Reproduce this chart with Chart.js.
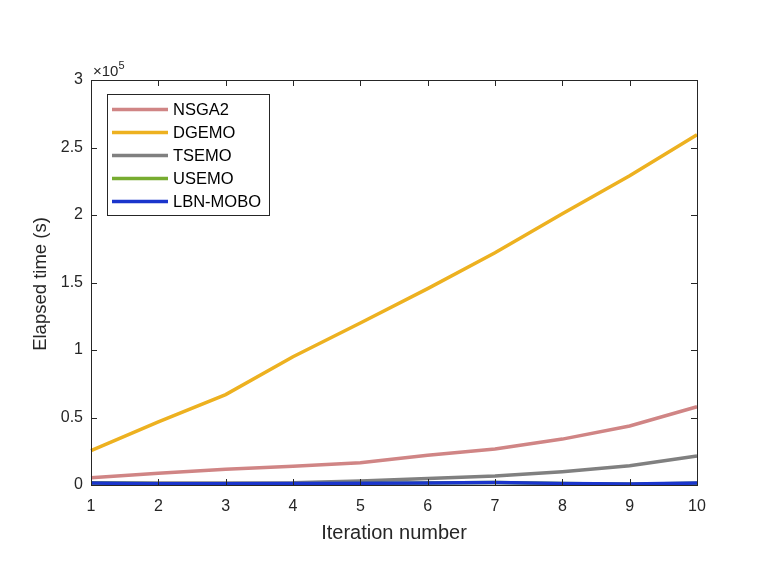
<!DOCTYPE html>
<html><head><meta charset="utf-8">
<script src="https://cdn.jsdelivr.net/npm/chart.js@4.4.0/dist/chart.umd.min.js"></script>
<style>html,body{margin:0;padding:0;background:#fff}#wrap{width:761px;height:586px}</style>
</head><body><div id="wrap"><canvas id="c" width="761" height="586"></canvas></div>
<script>
const iterations = [1,2,3,4,5,6,7,8,9,10];
const nsga2   = [5400, 8700, 11600, 13800, 16500, 22000, 26700, 34000, 43700, 58000];
const dgemo   = [25500, 46700, 67000, 95000, 120000, 145500, 172000, 201000, 229000, 259500];
const tsemo   = [1500, 1400, 1400, 1600, 3000, 4800, 6600, 9900, 14300, 21500];
const usemo   = [1400, 1000, 900, 1000, 1200, 1400, 1800, 1100, 600, 1300];
const lbnmobo = [1400, 1000, 1000, 1100, 1300, 1500, 1900, 1200, 700, 1400];
const yTicks  = [0, 0.5, 1, 1.5, 2, 2.5, 3];
const seriesNames = ['NSGA2','DGEMO','TSEMO','USEMO','LBN-MOBO'];
const seriesColors = ['#D08585','#EDB120','#808080','#77AC30','#1A35CC'];
const seriesData = [nsga2, dgemo, tsemo, usemo, lbnmobo];

const FONT = '"Liberation Sans", Arial, Helvetica, sans-serif';

const boxPlugin = {
  id: 'box',
  afterDraw(chart) {
    const ctx = chart.ctx, a = chart.chartArea;
    const xs = chart.scales.x, ys = chart.scales.y;
    ctx.save();
    ctx.strokeStyle = '#262626';
    ctx.lineWidth = 1;
    ctx.strokeRect(a.left + 0.5, a.top + 0.5, a.right - a.left, a.bottom - a.top);
    ctx.beginPath();
    iterations.forEach((v, i) => {
      const px = Math.round(xs.getPixelForValue(i)) + 0.5;
      ctx.moveTo(px, a.bottom); ctx.lineTo(px, a.bottom - 6);
      ctx.moveTo(px, a.top); ctx.lineTo(px, a.top + 6);
    });
    yTicks.forEach(v => {
      const py = Math.round(ys.getPixelForValue(v * 1e5)) + 0.5;
      ctx.moveTo(a.left, py); ctx.lineTo(a.left + 6, py);
      ctx.moveTo(a.right, py); ctx.lineTo(a.right - 6, py);
    });
    ctx.stroke();
    // exponent label
    ctx.fillStyle = '#262626';
    ctx.textBaseline = 'alphabetic';
    ctx.textAlign = 'left';
    ctx.font = '15px ' + FONT;
    ctx.fillText('\u00d710', a.left + 2, a.top - 4);
    const w = ctx.measureText('\u00d710').width;
    ctx.font = '11px ' + FONT;
    ctx.fillText('5', a.left + 2 + w, a.top - 11);
    // axis titles
    ctx.font = '20px ' + FONT;
    ctx.textAlign = 'center';
    ctx.fillText('Iteration number', (a.left + a.right) / 2, 539);
    ctx.save();
    ctx.font = '18.5px ' + FONT;
    ctx.translate(46, 284);
    ctx.rotate(-Math.PI / 2);
    ctx.fillText('Elapsed time (s)', 0, 0);
    ctx.restore();
    // legend
    const lx = 107, ly = 94, lw = 162, lh = 121;
    ctx.fillStyle = '#fff';
    ctx.fillRect(lx, ly, lw, lh);
    ctx.strokeStyle = '#262626';
    ctx.lineWidth = 1;
    ctx.strokeRect(lx + 0.5, ly + 0.5, lw, lh);
    ctx.font = '16.5px ' + FONT;
    ctx.textAlign = 'left';
    ctx.textBaseline = 'middle';
    chart.data.datasets.slice().sort((p, q) => p.order2 - q.order2).forEach((ds, i) => {
      const y = ly + 15.5 + i * 23;
      ctx.strokeStyle = ds.borderColor;
      ctx.lineWidth = 3.5;
      ctx.beginPath(); ctx.moveTo(112, y); ctx.lineTo(168, y); ctx.stroke();
      ctx.fillStyle = '#000';
      ctx.fillText(ds.label, 173, y + 1);
    });
    ctx.restore();
  }
};

const datasets = seriesNames.map((n, i) => ({
  label: n, data: seriesData[i], borderColor: seriesColors[i], backgroundColor: seriesColors[i],
  borderWidth: 3.5, pointRadius: 0, tension: 0, fill: false, order2: i, order: seriesNames.length - i
}));

new Chart(document.getElementById('c'), {
  type: 'line',
  data: { labels: iterations.map(String), datasets },
  options: {
    responsive: false, animation: false,
    layout: { padding: { left: 0, top: 80, right: 64, bottom: 0 } },
    plugins: { legend: { display: false }, tooltip: { enabled: false } },
    scales: {
      x: {
        offset: false,
        grid: { display: false, drawTicks: false },
        border: { display: false },
        ticks: { color: '#262626', font: { family: FONT, size: 16 }, padding: 12, maxRotation: 0 },
        afterFit(s) { s.height = 101; }
      },
      y: {
        min: 0, max: 300000,
        afterBuildTicks(s) { s.ticks = yTicks.map(v => ({ value: v * 1e5 })); },
        grid: { display: false, drawTicks: false },
        border: { display: false },
        ticks: { color: '#262626', font: { family: FONT, size: 16 }, padding: 8,
          callback: v => String(+(v / 1e5).toFixed(1)) },
        afterFit(s) { s.width = 91; }
      }
    }
  },
  plugins: [boxPlugin]
});
</script></body></html>
